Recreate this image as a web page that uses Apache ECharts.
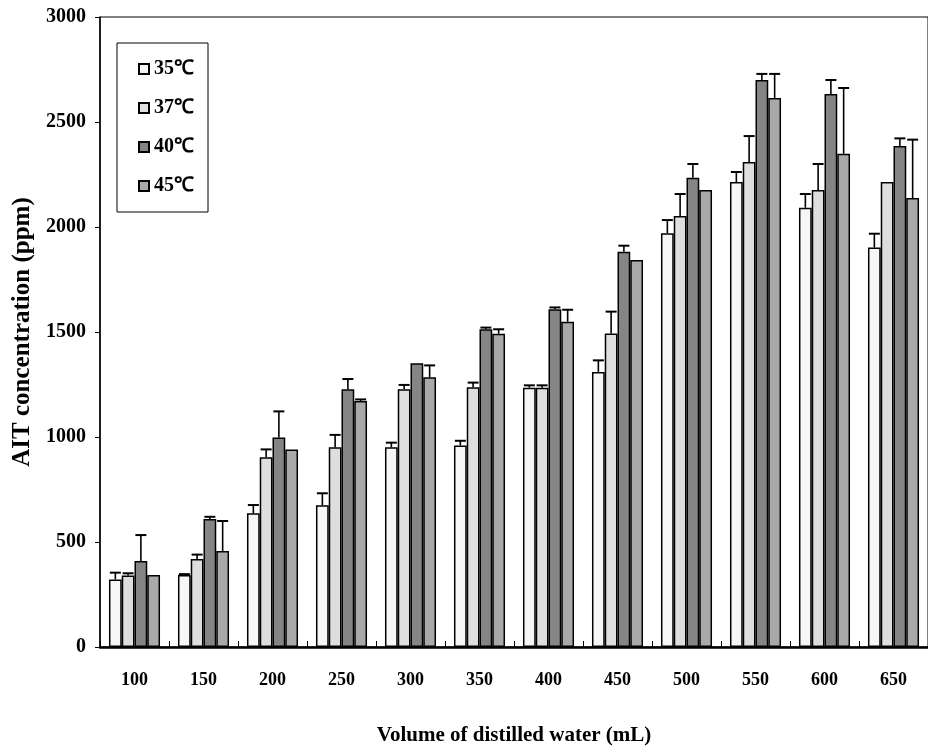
<!DOCTYPE html>
<html>
<head>
<meta charset="utf-8">
<script src="https://cdn.jsdelivr.net/npm/echarts@6/dist/echarts.min.js"></script>
<style>html,body{margin:0;padding:0;background:#fff}#c{width:928px;height:752px}</style>
</head>
<body>
<div id="c"></div>
<script>
const categories = ['100','150','200','250','300','350','400','450','500','550','600','650'];
const seriesNames = ['35℃','37℃','40℃','45℃'];
const v35 = [322,343,637,675,951,959,1235,1310,1970,2214,2092,1902];
const e35 = [32,4,39,57,22,23,11,55,63,48,65,66];
const v37 = [340,419,903,951,1227,1237,1235,1493,2052,2310,2176,2214];
const e37 = [11,21,38,59,21,22,11,104,105,123,124,0];
const v40 = [410,610,998,1227,1351,1513,1608,1882,2235,2700,2633,2386];
const e40 = [123,10,124,49,0,8,9,29,65,29,67,36];
const v45 = [343,457,941,1171,1284,1492,1549,1843,2176,2614,2349,2138];
const e45 = [0,143,0,8,57,21,57,0,0,115,313,278];
const yTicks = [0,500,1000,1500,2000,2500,3000];

const values = [v35, v37, v40, v45];
const errors = [e35, e37, e40, e45];
const colors = ['#f6f6f6', '#dedede', '#858585', '#a9a9a9'];
const catGap = 0.26;
const font = '"Liberation Serif", "Times New Roman", serif';

const barSeries = values.map((vals, i) => ({
  name: seriesNames[i],
  type: 'bar',
  data: vals,
  barGap: '0%',
  barCategoryGap: (catGap * 100) + '%',
  itemStyle: { color: colors[i], borderColor: '#000', borderWidth: 1.5 },
  emphasis: { disabled: true },
  z: 2
}));

const errSeries = values.map((vals, i) => ({
  type: 'custom',
  name: 'err' + i,
  data: vals.map((v, k) => [k, v, errors[i][k]]),
  z: 5,
  silent: true,
  renderItem: function (params, api) {
    const x = api.value(0), v = api.value(1), e = api.value(2);
    if (!e) return null;
    const band = api.size([1, 0])[0];
    const bw = band * (1 - catGap) / 4;
    const off = -2 * bw + bw * (i + 0.5);
    const p0 = api.coord([x, v]);
    const p1 = api.coord([x, v + e]);
    const cx = p0[0] + off;
    const st = { stroke: '#000', lineWidth: 1.6 };
    return {
      type: 'group',
      children: [
        { type: 'line', shape: { x1: cx, y1: p0[1], x2: cx, y2: p1[1] }, style: st },
        { type: 'line', shape: { x1: cx - 5.5, y1: p1[1], x2: cx + 5.5, y2: p1[1] }, style: { stroke: '#000', lineWidth: 2 } }
      ]
    };
  }
}));

const chart = echarts.init(document.getElementById('c'), null, { renderer: 'canvas' });
chart.setOption({
  backgroundColor: '#fff',
  animation: false,
  grid: { left: 100, right: 0, top: 17, bottom: 105, containLabel: false, outerBoundsMode: 'none', show: true, borderColor: '#000', borderWidth: 1, backgroundColor: 'transparent' },
  legend: {
    data: seriesNames,
    orient: 'vertical',
    left: 117,
    top: 43,
    padding: [16, 14, 16, 21],
    itemGap: 19,
    itemWidth: 10,
    itemHeight: 10,
    icon: 'rect',
    borderColor: '#000',
    borderWidth: 1,
    backgroundColor: '#fff',
    textStyle: { fontFamily: font, fontWeight: 'bold', fontSize: 20, color: '#000' }
  },
  xAxis: {
    type: 'category',
    data: categories,
    name: 'Volume of distilled water (mL)',
    nameLocation: 'middle',
    nameGap: 78,
    nameTextStyle: { fontFamily: font, fontWeight: 'bold', fontSize: 21, color: '#000' },
    axisLine: { lineStyle: { color: '#000', width: 2.5 } },
    axisTick: { show: true, inside: true, length: 6, lineStyle: { color: '#000', width: 1 } },
    axisLabel: { fontFamily: font, fontWeight: 'bold', fontSize: 18, color: '#000', margin: 24 },
    splitLine: { show: false }
  },
  yAxis: {
    type: 'value',
    min: yTicks[0],
    max: yTicks[yTicks.length - 1],
    interval: 500,
    name: 'AIT concentration (ppm)',
    nameLocation: 'middle',
    nameGap: 62,
    nameTextStyle: { fontFamily: font, fontWeight: 'bold', fontSize: 25, color: '#000' },
    axisLine: { show: true, lineStyle: { color: '#000', width: 1.5 } },
    axisTick: { show: true, inside: false, length: 5, lineStyle: { color: '#000', width: 1 } },
    axisLabel: { fontFamily: font, fontWeight: 'bold', fontSize: 20, color: '#000', margin: 14, formatter: v => String(v) },
    splitLine: { show: false }
  },
  series: barSeries.concat(errSeries)
});
</script>
</body>
</html>
